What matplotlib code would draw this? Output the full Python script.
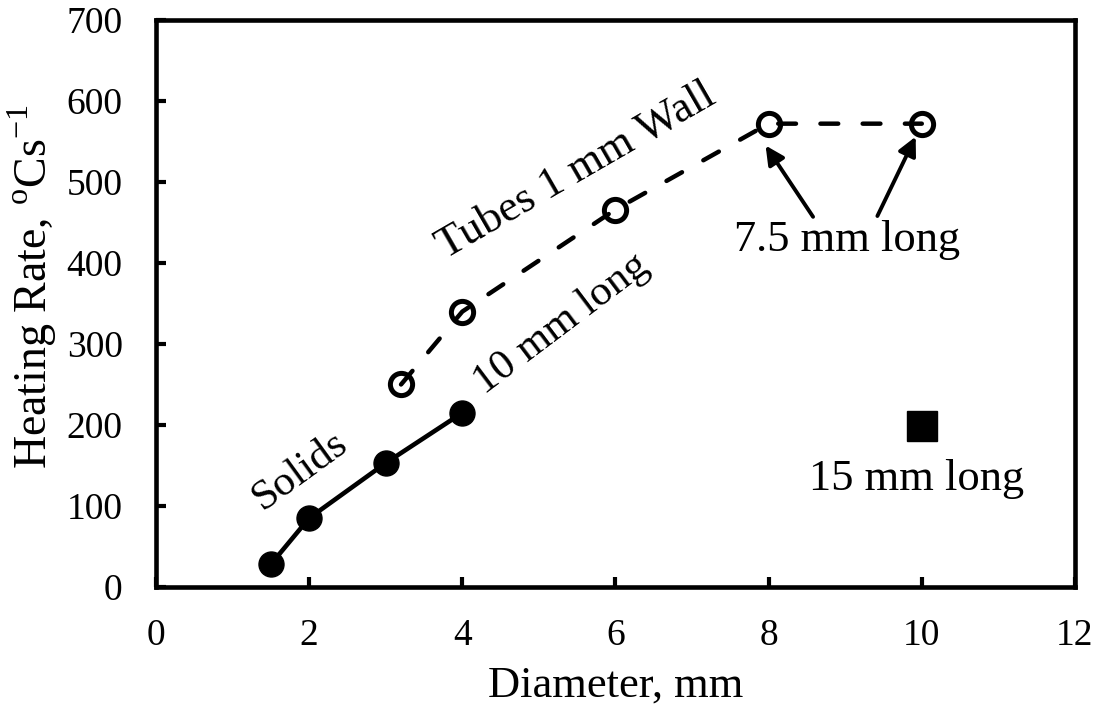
import matplotlib
matplotlib.use('Agg')
import matplotlib.pyplot as plt

plt.rcParams['font.family'] = ['Liberation Serif', 'DejaVu Serif']
plt.rcParams['mathtext.fontset'] = 'custom'
plt.rcParams['mathtext.rm'] = 'Liberation Serif'

# data
solid_d = [1.5, 2.0, 3.0, 4.0]
solid_rate = [28, 85, 153, 215]
tube_d = [3.2, 4.0, 6.0, 8.0, 10.0]
tube_rate = [250, 340, 466, 572, 572]
long_d = [10.0]
long_rate = [199]

x_ticks = [0, 2, 4, 6, 8, 10, 12]
y_ticks = [0, 100, 200, 300, 400, 500, 600, 700]

fig = plt.figure(figsize=(11.03, 7.27), dpi=100)
ax = fig.add_axes([0.1414, 0.1926, 0.8332, 0.7799])

ax.plot(solid_d, solid_rate, '-', color='black', lw=3.3,
        marker='o', ms=18, mfc='black', mec='black')
ax.plot(tube_d, tube_rate, color='black', lw=3.2, dashes=(4, 5.5),
        dash_capstyle='round', marker='o', ms=16, mfc='none', mec='black', mew=3.6)
ax.plot(long_d, long_rate, 's', color='black', ms=21)

ax.set_xlim(0, 12)
ax.set_ylim(0, 700)
ax.set_xticks(x_ticks)
ax.set_yticks(y_ticks)
ax.tick_params(direction='in', length=7, width=3, labelsize=27)
ax.tick_params(axis='y', pad=24)
ax.tick_params(axis='x', pad=23)
for s in ax.spines.values():
    s.set_linewidth(3.3)

ax.set_xlabel('Diameter, mm', fontsize=32, labelpad=9)
ax.set_ylabel(r'Heating Rate, $^{\mathrm{o}}$Cs$^{\mathrm{-1}}$', fontsize=33)
ax.yaxis.set_label_coords(-0.106, 0.53)

# annotations
ax.text(1.88, 143, 'Solids', fontsize=31, rotation=36, ha='center', va='center')
ax.text(5.29, 325, '10 mm long', fontsize=31, rotation=37, ha='center', va='center')
ax.text(5.49, 513, 'Tubes 1 mm Wall', fontsize=32, rotation=30, ha='center', va='center')
ax.text(9.02, 428, '7.5 mm long', fontsize=32, ha='center', va='center')
ax.text(9.93, 133, '15 mm long', fontsize=32, ha='center', va='center')

arrow = dict(arrowstyle='-|>', color='black', lw=2.8, mutation_scale=28,
             shrinkA=0, shrinkB=0)
ax.annotate('', xy=(7.96, 545), xytext=(8.58, 457), arrowprops=arrow)
ax.annotate('', xy=(9.92, 556), xytext=(9.42, 458), arrowprops=arrow)

fig.savefig('out.png', dpi=100)
